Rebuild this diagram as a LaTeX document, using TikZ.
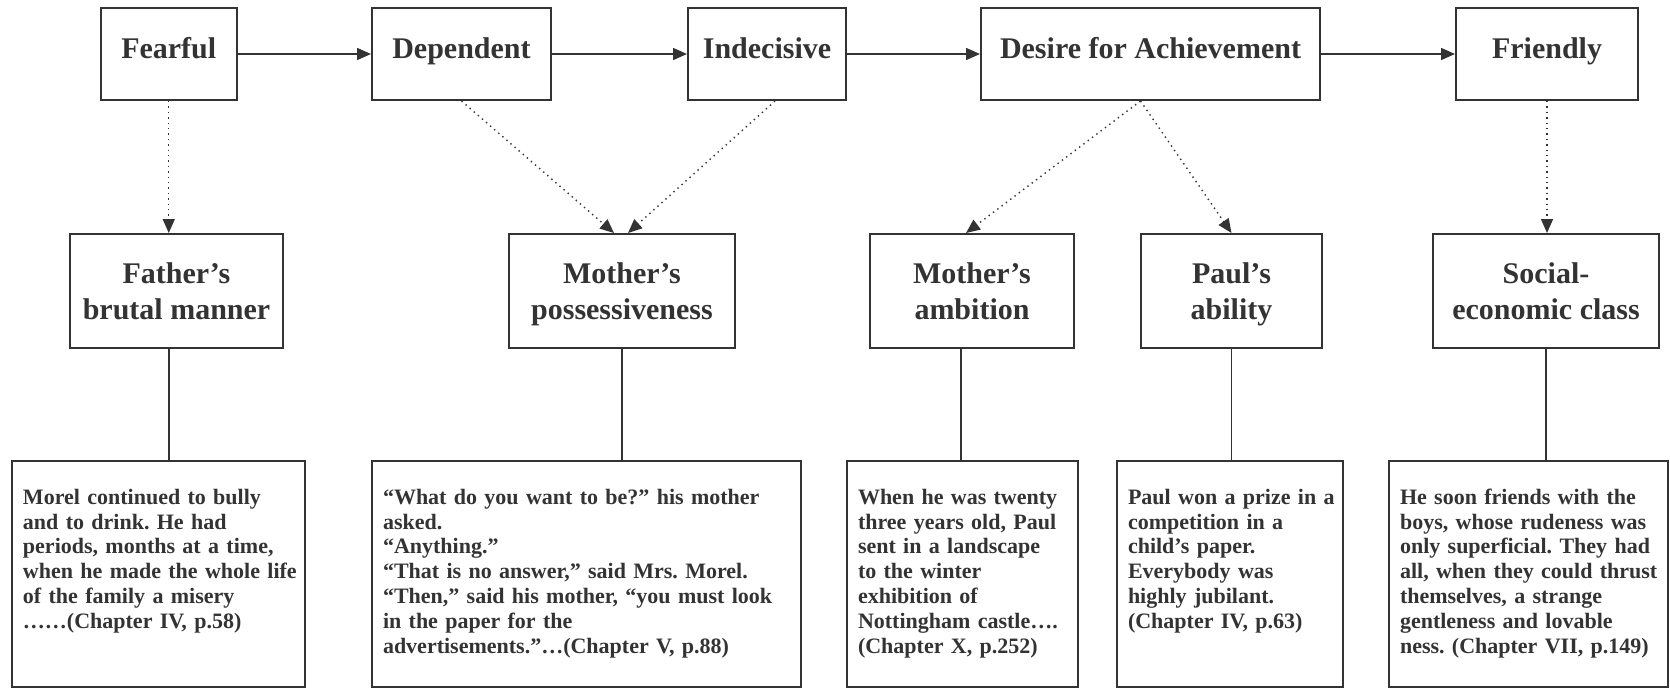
\documentclass[tikz,border=0pt]{standalone}
\usepackage{fontspec}
\setmainfont{Liberation Serif}
\usepackage{xcolor}
\usepackage{tikz}
\usetikzlibrary{arrows.meta}
\definecolor{ink}{HTML}{333333}
\frenchspacing
\newcommand{\quotebox}[1]{\parbox[c][87pt][t]{\linewidth}{\begin{tabular}{@{}l@{}}#1\end{tabular}}}

\begin{document}
\begin{tikzpicture}[x=0.5pt, y=-0.5pt, color=ink, line width=0.8pt,
	trait/.style={draw, line width=1pt, inner sep=0pt, minimum height=46pt, text height=25pt, text depth=21pt, font=\fontsize{15}{18}\selectfont\bfseries},
	cause/.style={draw, line width=1pt, minimum height=57pt, align=center, text height=29pt, text depth=0.5pt, font=\fontsize{15}{18}\selectfont\bfseries},
	quote/.style={draw, line width=1pt, anchor=north, inner xsep=5.5pt, inner ysep=13pt, font=\fontsize{11}{12.4}\selectfont\bfseries},
	flow/.style={-{Triangle[length=7pt,width=6pt]}},
	hint/.style={dotted, line width=0.7pt, -{Triangle[length=7pt,width=6pt]}}]
	\useasboundingbox (0,0) rectangle (1670,687);
	\node[trait, minimum width=67.75pt] (fear) at (168.75,54) {Fearful};
	\node[trait, minimum width=89.5pt] (dep) at (461.5,54) {Dependent};
	\node[trait, minimum width=79pt] (indec) at (767,54) {Indecisive};
	\node[trait, minimum width=169.5pt] (desire) at (1150.5,54) {Desire for Achievement};
	\node[trait, minimum width=91pt] (friend) at (1547,54) {Friendly};
	\node[cause, minimum width=106.5pt] (father) at (176.5,291) {Father’s\\brutal manner};
	\node[cause, minimum width=113pt] (possess) at (622,291) {Mother’s\\possessiveness};
	\node[cause, minimum width=102pt] (ambition) at (972,291) {Mother’s\\ambition};
	\node[cause, minimum width=90.5pt] (paul) at (1231.5,291) {Paul’s\\ability};
	\node[cause, minimum width=113pt] (social) at (1546,291) {Social-\\economic class};
	\node[quote, text width=135.5pt] (q1) at (158.5,460) {\quotebox{Morel continued to bully\\and to drink. He had\\periods, months at a time,\\when he made the whole life\\of the family a misery\\……(Chapter IV, p.58)}};
	\node[quote, text width=203.5pt] (q2) at (586.5,460) {\quotebox{“What do you want to be?” his mother\\asked.\\“Anything.”\\“That is no answer,” said Mrs. Morel.\\“Then,” said his mother, “you must look\\in the paper for the\\advertisements.”…(Chapter V, p.88)}};
	\node[quote, text width=104.5pt] (q3) at (962.5,460) {\quotebox{When he was twenty\\three years old, Paul\\sent in a landscape\\to the winter\\exhibition of\\Nottingham castle….\\(Chapter X, p.252)}};
	\node[quote, text width=102pt] (q4) at (1230,460) {\quotebox{Paul won a prize in a\\competition in a\\child’s paper.\\Everybody was\\highly jubilant.\\(Chapter IV, p.63)}};
	\node[quote, text width=128.5pt] (q5) at (1528.5,460) {\quotebox{He soon friends with the\\boys, whose rudeness was\\only superficial. They had\\all, when they could thrust\\themselves, a strange\\gentleness and lovable\\ness. (Chapter VII, p.149)}};
	\draw[flow] (fear) -- (dep);
	\draw[flow] (dep) -- (indec);
	\draw[flow] (indec) -- (desire);
	\draw[flow] (desire) -- (friend);
	\draw[hint] (fear.south) -- (fear.south |- father.north);
	\draw[hint] (dep.south) -- ([xshift=-4pt]possess.north);
	\draw[hint] ([xshift=4pt]indec.south) -- ([xshift=3pt]possess.north);
	\draw[hint] ([xshift=-5pt]desire.south) -- ([xshift=-3pt]ambition.north);
	\draw[hint] ([xshift=-5pt]desire.south) -- (paul.north);
	\draw[hint] (friend.south) -- (friend.south |- social.north);
	\draw (fear.south |- father.south) -- (fear.south |- q1.north);
	\draw (possess.south) -- (possess.south |- q2.north);
	\draw ([xshift=-5.5pt]ambition.south) -- ([xshift=-5.5pt]ambition.south |- q3.north);
	\draw (paul.south) -- (paul.south |- q4.north);
	\draw (social.south) -- (social.south |- q5.north);
\end{tikzpicture}
\end{document}
